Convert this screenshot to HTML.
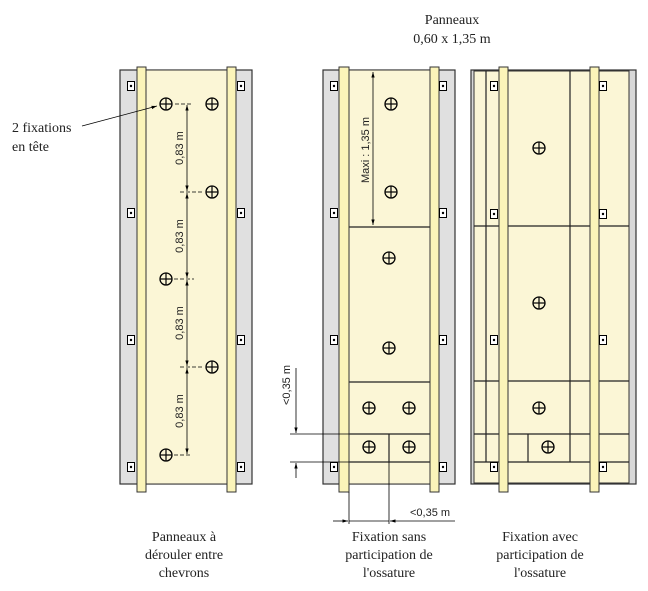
<!DOCTYPE html>
<html><head><meta charset="utf-8"><style>
html,body{margin:0;padding:0;background:#fff}
svg{display:block}
text{font-family:"Liberation Sans",sans-serif;fill:#222}
.l{font-family:"Liberation Serif",serif;font-size:14px}
</style></head><body>
<svg width="648" height="591" viewBox="0 0 648 591" xmlns="http://www.w3.org/2000/svg">
<defs>
<g id="s"><circle r="6" fill="none" stroke="#000" stroke-width="1.3"/><line x1="-6" y1="0" x2="6" y2="0" stroke="#000" stroke-width="1.2"/><line x1="0" y1="-6" x2="0" y2="6" stroke="#000" stroke-width="1.2"/></g>
<g id="c"><rect x="-3.5" y="-4.5" width="7" height="9" fill="#fff" stroke="#000" stroke-width="1"/><circle r="1.2" fill="#000"/></g>
<marker id="a" viewBox="0 0 10 10" refX="10" refY="5" markerWidth="7" markerHeight="7" orient="auto-start-reverse"><path d="M0,2 L10,5 L0,8 z" fill="#000"/></marker>
</defs>

<!-- Panel 1 -->
<rect x="120" y="70" width="132" height="414" fill="#e0e0e0" stroke="#333" stroke-width="1.2"/>
<rect x="146" y="70" width="81" height="414" fill="#fbf6d6" stroke="#333" stroke-width="1"/>
<rect x="137" y="67" width="9" height="425" fill="#fbf4b9" stroke="#333" stroke-width="1"/>
<rect x="227" y="67" width="9" height="425" fill="#fbf4b9" stroke="#333" stroke-width="1"/>
<use href="#c" x="131" y="86"/><use href="#c" x="241" y="86"/>
<use href="#c" x="131" y="213"/><use href="#c" x="241" y="213"/>
<use href="#c" x="131" y="340"/><use href="#c" x="241" y="340"/>
<use href="#c" x="131" y="467"/><use href="#c" x="241" y="467"/>
<use href="#s" x="166" y="104"/><use href="#s" x="212" y="104"/>
<use href="#s" x="212" y="192"/><use href="#s" x="166" y="279"/>
<use href="#s" x="212" y="367"/><use href="#s" x="166" y="455"/>
<g stroke="#000" stroke-width="0.8" fill="none">
<line x1="187" y1="105" x2="187" y2="191" marker-start="url(#a)" marker-end="url(#a)"/>
<line x1="187" y1="193" x2="187" y2="278" marker-start="url(#a)" marker-end="url(#a)"/>
<line x1="187" y1="280" x2="187" y2="366" marker-start="url(#a)" marker-end="url(#a)"/>
<line x1="187" y1="368" x2="187" y2="454" marker-start="url(#a)" marker-end="url(#a)"/>
<g stroke-dasharray="4,2"><line x1="175" y1="104" x2="192" y2="104"/><line x1="180" y1="192" x2="204" y2="192"/><line x1="174" y1="279" x2="194" y2="279"/><line x1="180" y1="367" x2="204" y2="367"/><line x1="174" y1="455" x2="192" y2="455"/></g>
<line x1="82" y1="126" x2="157" y2="106" marker-end="url(#a)"/>
</g>
<g font-size="11">
<text transform="translate(183,148) rotate(-90)" text-anchor="middle">0,83 m</text>
<text transform="translate(183,236) rotate(-90)" text-anchor="middle">0,83 m</text>
<text transform="translate(183,323) rotate(-90)" text-anchor="middle">0,83 m</text>
<text transform="translate(183,411) rotate(-90)" text-anchor="middle">0,83 m</text>
</g>
<text x="12" y="132" class="l">2 fixations</text>
<text x="12" y="151" class="l">en tête</text>

<!-- Panel 2 -->
<rect x="323" y="70" width="132" height="414" fill="#e0e0e0" stroke="#333" stroke-width="1.2"/>
<rect x="349" y="70" width="81" height="414" fill="#fbf6d6" stroke="#333" stroke-width="1"/>
<g stroke="#222" stroke-width="1.2">
<line x1="349" y1="227" x2="430" y2="227"/><line x1="349" y1="382" x2="430" y2="382"/>
<line x1="349" y1="434" x2="430" y2="434"/><line x1="349" y1="462" x2="430" y2="462"/>
<line x1="389" y1="434" x2="389" y2="462"/>
</g>
<rect x="339" y="67" width="10" height="425" fill="#fbf4b9" stroke="#333" stroke-width="1"/>
<rect x="430" y="67" width="9" height="425" fill="#fbf4b9" stroke="#333" stroke-width="1"/>
<use href="#c" x="334" y="86"/><use href="#c" x="443" y="86"/>
<use href="#c" x="334" y="213"/><use href="#c" x="443" y="213"/>
<use href="#c" x="334" y="340"/><use href="#c" x="443" y="340"/>
<use href="#c" x="334" y="467"/><use href="#c" x="443" y="467"/>
<use href="#s" x="391" y="104"/><use href="#s" x="391" y="192"/>
<use href="#s" x="389" y="258"/><use href="#s" x="389" y="348"/>
<use href="#s" x="369" y="408"/><use href="#s" x="409" y="408"/>
<use href="#s" x="369" y="447"/><use href="#s" x="409" y="447"/>
<g stroke="#000" stroke-width="0.8" fill="none">
<line x1="373" y1="72" x2="373" y2="225" marker-start="url(#a)" marker-end="url(#a)"/>
<line x1="290" y1="434" x2="349" y2="434"/><line x1="290" y1="462" x2="349" y2="462"/>
<line x1="296" y1="368" x2="296" y2="433" marker-end="url(#a)"/>
<line x1="296" y1="478" x2="296" y2="463" marker-end="url(#a)"/>
<line x1="349" y1="492" x2="349" y2="524"/><line x1="389" y1="462" x2="389" y2="524"/>
<line x1="333" y1="521" x2="348" y2="521" marker-end="url(#a)"/>
<line x1="349" y1="521" x2="389" y2="521"/>
<line x1="455" y1="521" x2="390" y2="521" marker-end="url(#a)"/>
</g>
<text transform="translate(369,150) rotate(-90)" text-anchor="middle" font-size="11">Maxi : 1,35 m</text>
<text transform="translate(290,385) rotate(-90)" text-anchor="middle" font-size="11">&lt;0,35 m</text>
<text x="410" y="516" font-size="11">&lt;0,35 m</text>

<!-- Panel 3 -->
<rect x="471" y="70" width="165" height="414" fill="#d8d8d8" stroke="#333" stroke-width="1.2"/>
<rect x="474" y="71" width="155" height="412" fill="#fbf6d6" stroke="#333" stroke-width="1"/>
<g stroke="#222" stroke-width="1.2">
<line x1="486" y1="71" x2="486" y2="462"/><line x1="570" y1="71" x2="570" y2="434"/>
<line x1="474" y1="226" x2="629" y2="226"/><line x1="474" y1="381" x2="629" y2="381"/>
<line x1="474" y1="434" x2="629" y2="434"/><line x1="474" y1="462" x2="629" y2="462"/>
<line x1="528" y1="434" x2="528" y2="462"/><line x1="570" y1="434" x2="570" y2="462"/>
</g>
<rect x="499" y="67" width="9" height="425" fill="#fbf4b9" stroke="#333" stroke-width="1"/>
<rect x="590" y="67" width="9" height="425" fill="#fbf4b9" stroke="#333" stroke-width="1"/>
<use href="#c" x="494" y="86"/><use href="#c" x="603" y="86"/>
<use href="#c" x="494" y="214"/><use href="#c" x="603" y="214"/>
<use href="#c" x="494" y="340"/><use href="#c" x="603" y="340"/>
<use href="#c" x="494" y="467"/><use href="#c" x="603" y="467"/>
<use href="#s" x="539" y="148"/><use href="#s" x="539" y="303"/>
<use href="#s" x="539" y="408"/><use href="#s" x="548" y="447"/>

<!-- Titles -->
<text x="452" y="24" text-anchor="middle" class="l">Panneaux</text>
<text x="452" y="43" text-anchor="middle" class="l">0,60 x 1,35 m</text>
<g class="l" text-anchor="middle">
<text x="184" y="541" class="l">Panneaux à</text><text x="184" y="559" class="l">dérouler entre</text><text x="184" y="577" class="l">chevrons</text>
<text x="389" y="541" class="l">Fixation sans</text><text x="389" y="559" class="l">participation de</text><text x="389" y="577" class="l">l'ossature</text>
<text x="540" y="541" class="l">Fixation avec</text><text x="540" y="559" class="l">participation de</text><text x="540" y="577" class="l">l'ossature</text>
</g>
</svg>
</body></html>
